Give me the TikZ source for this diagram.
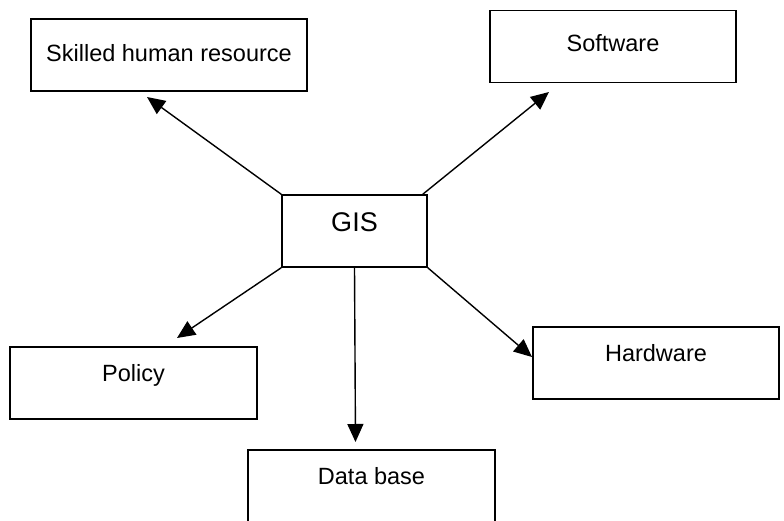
\documentclass[tikz,border=0pt]{standalone}
\usepackage{fontspec}
\setmainfont{Liberation Sans}
\usetikzlibrary{arrows.meta}
\tikzset{%
  block/.style = {shape=rectangle, draw, line width=1.4pt, inner sep=0pt,%
                  minimum height=72pt, text height=17pt,%
                  font=\fontsize{23.5}{28}\selectfont},%
  hub/.style   = {block, text height=19pt, font=\fontsize{27}{31}\selectfont},%
  link/.style  = {line width=1.4pt, -{Triangle[length=18pt,width=16pt]}}%
}

\begin{document}
\begin{tikzpicture}[x=1pt, y=-1pt]%
	\useasboundingbox (0,0) rectangle (784,521);
	% centre and the five parts
	\node (gis) at (354.5,231) [hub, minimum width=145pt, text depth=18pt] {GIS};%
	\node (skill) at (169,55) [block, minimum width=276pt, text depth=4pt] {Skilled human resource};%
	\node (soft) at (613,46.5) [block, minimum width=246pt, text depth=7pt] {Software};%
	\node (policy) at (133.5,383) [block, minimum width=247pt, text depth=20pt] {Policy};%
	\node (hard) at (656,363) [block, minimum width=246pt, text depth=20pt] {Hardware};%
	\node (data) at (371.5,490) [block, minimum width=247pt, minimum height=80pt, text depth=28pt] {Data base};%
	% arrow ends
	\coordinate (skilltip) at (147,97);
	\coordinate (softtip) at (549,92);
	\coordinate (policytip) at (177,338);
	\coordinate (hardtip) at (532,357);
	\coordinate (datatip) at (355.5,442);
	\draw[link] (gis.north west) -- (skilltip);
	\draw[link] ([xshift=-5pt]gis.north east) -- (softtip);
	\draw[link] (gis.south west) -- (policytip);
	\draw[link] (gis.south east) -- (hardtip);
	\draw[link] (gis.south) -- (datatip);
\end{tikzpicture}
\end{document}
